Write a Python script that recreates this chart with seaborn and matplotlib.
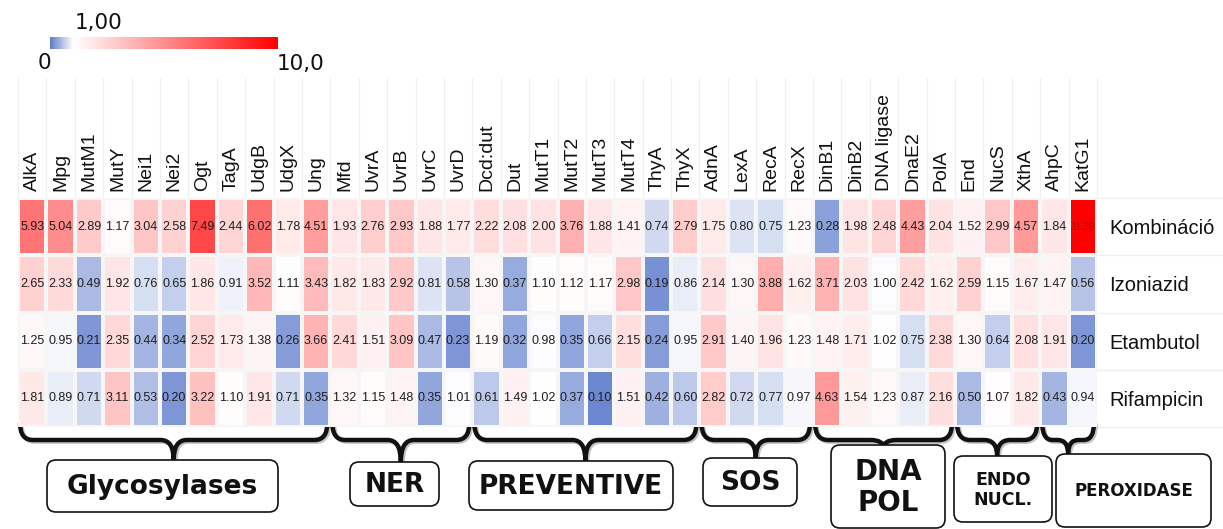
import numpy as np
import pandas as pd
import matplotlib
matplotlib.use("Agg")
import matplotlib.pyplot as plt
import seaborn as sns
from matplotlib.colors import LinearSegmentedColormap
from matplotlib.patches import FancyBboxPatch, PathPatch
from matplotlib.path import Path
import matplotlib.patheffects as pe

# ---- data -------------------------------------------------------------
genes = ["AlkA", "Mpg", "MutM1", "MutY", "Nei1", "Nei2", "Ogt", "TagA", "UdgB", "UdgX", "Ung",
         "Mfd", "UvrA", "UvrB", "UvrC", "UvrD",
         "Dcd:dut", "Dut", "MutT1", "MutT2", "MutT3", "MutT4", "ThyA", "ThyX",
         "AdnA", "LexA", "RecA", "RecX",
         "DinB1", "DinB2", "DNA ligase", "DnaE2", "PolA",
         "End", "NucS", "XthA",
         "AhpC", "KatG1"]
treatments = ["Kombináció", "Izoniazid", "Etambutol", "Rifampicin"]

kombinacio = [5.93, 5.04, 2.89, 1.17, 3.04, 2.58, 7.49, 2.44, 6.02, 1.78, 4.51,
              1.93, 2.76, 2.93, 1.88, 1.77,
              2.22, 2.08, 2.00, 3.76, 1.88, 1.41, 0.74, 2.79,
              1.75, 0.80, 0.75, 1.23,
              0.28, 1.98, 2.48, 4.43, 2.04,
              1.52, 2.99, 4.57,
              1.84, 11.39]
izoniazid = [2.65, 2.33, 0.49, 1.92, 0.76, 0.65, 1.86, 0.91, 3.52, 1.11, 3.43,
             1.82, 1.83, 2.92, 0.81, 0.58,
             1.30, 0.37, 1.10, 1.12, 1.17, 2.98, 0.19, 0.86,
             2.14, 1.30, 3.88, 1.62,
             3.71, 2.03, 1.00, 2.42, 1.62,
             2.59, 1.15, 1.67,
             1.47, 0.56]
etambutol = [1.25, 0.95, 0.21, 2.35, 0.44, 0.34, 2.52, 1.73, 1.38, 0.26, 3.66,
             2.41, 1.51, 3.09, 0.47, 0.23,
             1.19, 0.32, 0.98, 0.35, 0.66, 2.15, 0.24, 0.95,
             2.91, 1.40, 1.96, 1.23,
             1.48, 1.71, 1.02, 0.75, 2.38,
             1.30, 0.64, 2.08,
             1.91, 0.20]
rifampicin = [1.81, 0.89, 0.71, 3.11, 0.53, 0.20, 3.22, 1.10, 1.91, 0.71, 0.35,
              1.32, 1.15, 1.48, 0.35, 1.01,
              0.61, 1.49, 1.02, 0.37, 0.10, 1.51, 0.42, 0.60,
              2.82, 0.72, 0.77, 0.97,
              4.63, 1.54, 1.23, 0.87, 2.16,
              0.50, 1.07, 1.82,
              0.43, 0.94]

group_names = ["Glycosylases", "NER", "PREVENTIVE", "SOS", "DNA\nPOL", "ENDO\nNUCL.", "PEROXIDASE"]
group_sizes = [11, 5, 8, 4, 5, 3, 2]

scale_min, scale_mid, scale_max = 0.0, 1.0, 10.0
scale_labels = ["0", "1,00", "10,0"]

# ---- layout (figure pixels, origin top-left) ---------------------------
W, H = 1223, 529
heat_box = (18, 198, 1097, 427)          # left, top, right, bottom
cbar_box = (50, 37, 278, 49)
# label boxes: left, right, top, bottom, font size
label_boxes = [
    (47, 278, 460, 512, 19),
    (350, 439, 462, 506, 19),
    (469, 673, 461, 510, 19),
    (703, 797, 458, 506, 19),
    (831, 945, 445, 528, 20),
    (954, 1052, 456, 522, 12.5),
    (1056, 1211, 454, 527, 12),
]

sns.set_theme(style="white")
plt.rcParams["font.family"] = ["Liberation Sans", "DejaVu Sans"]

df = pd.DataFrame([kombinacio, izoniazid, etambutol, rifampicin],
                  index=treatments, columns=genes)

# blue below 1, white at 1, red towards 10 (linear value axis)
wpos = (scale_mid - scale_min) / (scale_max - scale_min)
cmap = LinearSegmentedColormap.from_list(
    "fold", [(0.0, "#5f7dcc"), (wpos, "#ffffff"), (1.0, "#ff0000")])

fig = plt.figure(figsize=(W / 100, H / 100), dpi=100)
fig.patch.set_facecolor("white")

# overlay axes in pixel coordinates for decorations
ov = fig.add_axes([0, 0, 1, 1], zorder=0)
ov.set_xlim(0, W)
ov.set_ylim(H, 0)
ov.axis("off")

l, t, r, b = heat_box
ax = fig.add_axes([l / W, 1 - b / H, (r - l) / W, (b - t) / H], zorder=2)
sns.heatmap(df, ax=ax, cmap=cmap, vmin=scale_min, vmax=scale_max,
            annot=True, fmt=".2f", annot_kws={"size": 9, "color": "#1e1e1e"},
            linewidths=1.6, linecolor="#f6f6f6", cbar=False)

for txt in ax.texts:
    if float(txt.get_text()) > scale_max:
        txt.set_fontsize(7)
        txt.set_color("#b00000")

ax.xaxis.tick_top()
ax.set_xticks(np.arange(len(genes)) + 0.5)
ax.set_xticklabels(genes, rotation=90, fontsize=14, color="#111111")
ax.tick_params(axis="x", length=0, pad=5, top=True, bottom=False,
               labeltop=True, labelbottom=False)
ax.yaxis.tick_right()
ax.set_yticks(np.arange(len(treatments)) + 0.5)
ax.set_yticklabels(treatments, rotation=0, fontsize=14.5, color="#111111")
ax.tick_params(axis="y", length=0, pad=9, right=True, left=False,
               labelright=True, labelleft=False)
ax.set_xlabel("")
ax.set_ylabel("")

fig.canvas.draw()


def to_px(x, y):
    dx, dy = ax.transData.transform((x, y))
    return dx, H - dy


# faint table rules above and to the right of the grid
for i in range(len(genes) + 1):
    x, ytop = to_px(i, 0)
    ov.plot([x, x], [78, ytop], color="#f0f0f0", lw=0.9, zorder=0)
for j in range(len(treatments) + 1):
    x, y = to_px(len(genes), j)
    ov.plot([x, W], [y, y], color="#efefef", lw=0.9, zorder=0)

# colour scale bar
cl, ct, cr, cb = cbar_box
cax = fig.add_axes([cl / W, 1 - cb / H, (cr - cl) / W, (cb - ct) / H], zorder=2)
sm = plt.cm.ScalarMappable(cmap=cmap, norm=plt.Normalize(scale_min, scale_max))
cbar = fig.colorbar(sm, cax=cax, orientation="horizontal")
cbar.outline.set_visible(False)
cax.set_xticks([])
cax.set_yticks([])


def val_px(v):
    return cl + (v - scale_min) / (scale_max - scale_min) * (cr - cl)


tfont = dict(family="DejaVu Sans", fontsize=15.5, color="#111111")
ov.text(val_px(scale_min) - 6, 63, scale_labels[0], ha="center", va="center", **tfont)
ov.text(val_px(scale_mid) + 2, 23, scale_labels[1], ha="left", va="center", **tfont)
ov.text(val_px(scale_max) - 1, 64, scale_labels[2], ha="left", va="center", **tfont)

# braces and group boxes
shadow = [pe.SimpleLineShadow(offset=(1.2, -1.2), alpha=0.35, shadow_color="#555555"),
          pe.Normal()]
start = 0
for name, size, (bl, br, bt, bb, fs) in zip(group_names, group_sizes, label_boxes):
    x0, ytop = to_px(start, len(treatments))
    x1, _ = to_px(start + size, len(treatments))
    x0 += 2
    x1 -= 3
    ytop -= 4
    xc = (x0 + x1) / 2
    ymid = ytop + 17
    ybot = max(bt, ymid + 8)
    rr = min(13, (x1 - x0) / 5)
    verts = [(x0, ytop), (x0, ymid), (x0 + rr, ymid),
             (xc - rr, ymid), (xc, ymid), (xc, ybot),
             (xc, ymid), (xc + rr, ymid),
             (x1 - rr, ymid), (x1, ymid), (x1, ytop)]
    codes = [Path.MOVETO, Path.CURVE3, Path.CURVE3,
             Path.LINETO, Path.CURVE3, Path.CURVE3,
             Path.CURVE3, Path.CURVE3,
             Path.LINETO, Path.CURVE3, Path.CURVE3]
    ov.add_patch(PathPatch(Path(verts, codes), fill=False, lw=3.2, color="#111111",
                           capstyle="round", joinstyle="round", zorder=3,
                           path_effects=shadow))
    box = FancyBboxPatch((bl, bt), br - bl, bb - bt,
                         boxstyle="round,pad=0,rounding_size=9",
                         fc="white", ec="#111111", lw=1.2, zorder=4)
    ov.add_patch(box)
    ov.text((bl + br) / 2, (bt + bb) / 2 + 1, name, ha="center", va="center",
            fontsize=fs, fontweight="bold", family="DejaVu Sans",
            color="#111111", linespacing=1.15, zorder=5)
    start += size

fig.savefig("out.png", dpi=100, facecolor="white")
